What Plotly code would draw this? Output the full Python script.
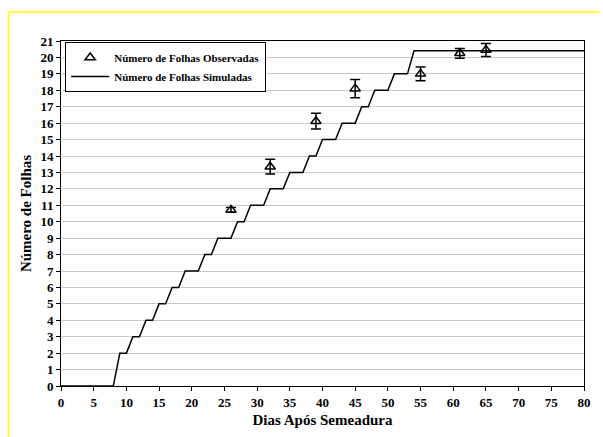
import plotly.graph_objects as go

# Simulated leaf number (step curve)
sim_days = [0, 8, 9, 10, 11, 12, 13, 14, 15, 16, 17, 18, 19, 21, 22, 23, 24, 26, 27, 28,
            29, 31, 32, 34, 35, 37, 38, 39, 40, 42, 43, 45, 46, 47, 48, 50, 51, 53, 54, 80]
sim_leaves = [0, 0, 2, 2, 3, 3, 4, 4, 5, 5, 6, 6, 7, 7, 8, 8, 9, 9, 10, 10,
              11, 11, 12, 12, 13, 13, 14, 14, 15, 15, 16, 16, 17, 17, 18, 18, 19, 19, 20.4, 20.4]

# Observed leaf number with error
obs_days = [26, 32, 39, 45, 55, 61, 65]
obs_leaves = [10.72, 13.35, 16.12, 18.1, 19.0, 20.25, 20.45]
obs_err = [0.15, 0.45, 0.48, 0.55, 0.42, 0.3, 0.4]

x_ticks = list(range(0, 81, 5))
y_ticks = list(range(0, 22, 1))

font_family = "Liberation Serif"

fig = go.Figure()
fig.add_trace(go.Scatter(
    x=obs_days, y=obs_leaves, mode="markers",
    name="<b>Número de Folhas Observadas</b>",
    marker=dict(symbol="triangle-up-open", size=9, color="black", line=dict(width=1.5, color="black")),
    error_y=dict(type="data", array=obs_err, visible=True, color="black", thickness=1.5, width=5),
))
fig.add_trace(go.Scatter(
    x=sim_days, y=sim_leaves, mode="lines",
    name="<b>Número de Folhas Simuladas</b>",
    line=dict(color="black", width=1.5),
))

fig.update_layout(
    width=603, height=437,
    margin=dict(l=61, r=14, t=41, b=51),
    paper_bgcolor="white", plot_bgcolor="white",
    font=dict(family=font_family, color="black"),
    showlegend=True,
    legend=dict(
        x=0.008, y=0.997, xanchor="left", yanchor="top",
        bgcolor="white", bordercolor="black", borderwidth=1,
        font=dict(family=font_family, size=11, color="black"),
        tracegroupgap=0, itemwidth=38,
    ),
    xaxis=dict(
        range=[0, 80], tickmode="array", tickvals=x_ticks,
        ticktext=[f"<b>{v}</b>" for v in x_ticks],
        showgrid=False, zeroline=False,
        showline=True, linecolor="black", linewidth=1, mirror=True,
        ticks="outside", ticklen=4, tickcolor="black",
        tickfont=dict(family=font_family, size=13),
        title=dict(text="<b>Dias Após Semeadura</b>", font=dict(family=font_family, size=15), standoff=5),
    ),
    yaxis=dict(
        range=[0, 21], tickmode="array", tickvals=y_ticks,
        ticktext=[f"<b>{v}</b>" for v in y_ticks],
        showgrid=True, gridcolor="#c8c8c8", gridwidth=1, zeroline=False,
        showline=True, linecolor="black", linewidth=1, mirror=True,
        ticks="outside", ticklen=4, tickcolor="black",
        tickfont=dict(family=font_family, size=13),
        title=dict(text="<b>Número de Folhas</b>", font=dict(family=font_family, size=15), standoff=5),
    ),
    shapes=[
        dict(type="line", xref="paper", yref="paper", x0=-0.1004, x1=1.03, y0=1.084, y1=1.084,
             line=dict(color="yellow", width=1.5)),
        dict(type="line", xref="paper", yref="paper", x0=-0.1004, x1=-0.1004, y0=1.084, y1=-0.16,
             line=dict(color="yellow", width=1.5)),
    ],
)

fig.write_html("out.html")
